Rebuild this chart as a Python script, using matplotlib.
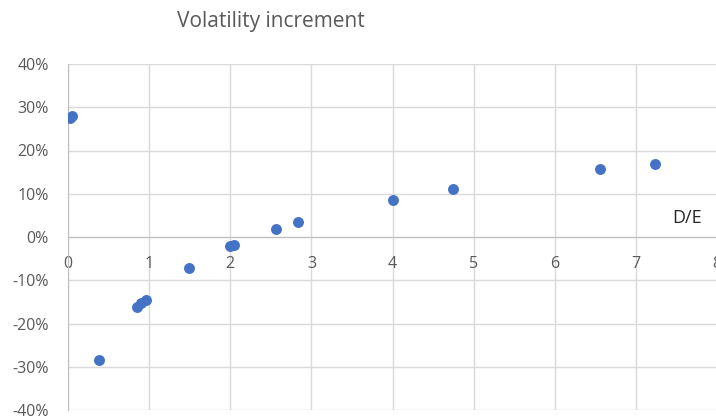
import matplotlib
matplotlib.use("Agg")
import matplotlib.pyplot as plt
from matplotlib.ticker import FuncFormatter

# Debt-to-equity ratio vs. volatility increment (fraction)
de_ratio = [0.02, 0.05, 0.38, 0.85, 0.90, 0.96, 1.49, 2.00, 2.05, 2.57, 2.83, 4.00, 4.75, 6.56, 7.23]
vol_increment = [0.275, 0.280, -0.284, -0.161, -0.152, -0.145, -0.071, -0.021, -0.018, 0.019, 0.035, 0.086, 0.111, 0.157, 0.168]

x_ticks = [0, 1, 2, 3, 4, 5, 6, 7, 8]
y_ticks = [-0.4, -0.3, -0.2, -0.1, 0.0, 0.1, 0.2, 0.3, 0.4]

title = "Volatility increment"
x_label = "D/E"

plt.rcParams["font.family"] = ["Open Sans", "DejaVu Sans"]

fig = plt.figure(figsize=(7.16, 4.2), dpi=100)
ax = fig.add_axes([68 / 716, 10 / 420, 649 / 716, 346 / 420])

ax.scatter(de_ratio, vol_increment, s=62, color="#4472C4", zorder=3, linewidths=0)

ax.set_xlim(0, 8)
ax.set_ylim(-0.4, 0.4)
ax.set_xticks(x_ticks)
ax.set_yticks(y_ticks)
ax.yaxis.set_major_formatter(FuncFormatter(lambda v, _: f"{v * 100:.0f}%"))

ax.grid(True, color="#d9d9d9", linewidth=1.0, zorder=0)
ax.set_axisbelow(True)

for side in ("top", "right"):
    ax.spines[side].set_visible(False)
ax.spines["bottom"].set_position(("data", 0))
ax.spines["left"].set_position(("data", 0))
ax.spines["bottom"].set_color("#bfbfbf")
ax.spines["left"].set_color("#bfbfbf")
ax.spines["bottom"].set_zorder(1)

ax.tick_params(axis="both", length=0, colors="#595959", labelsize=11.5)
ax.tick_params(axis="x", pad=14)
ax.tick_params(axis="y", pad=14)

ax.text(7.63, 0.044, x_label, fontsize=13, color="#262626", ha="center", va="center")

fig.text(0.378, 0.95, title, fontsize=15, color="#595959", ha="center", va="center")

fig.savefig("out.png", dpi=100)
